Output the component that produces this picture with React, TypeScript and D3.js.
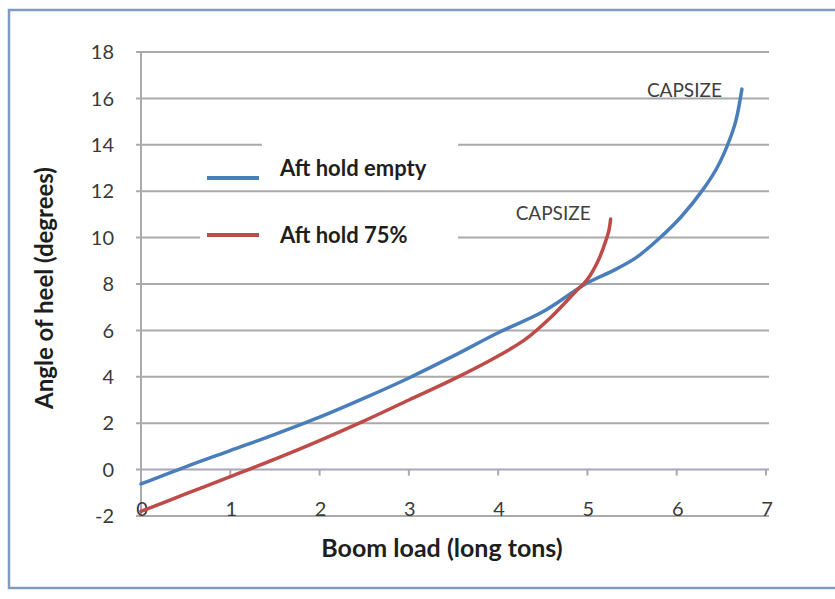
import { useEffect, useRef } from "react";
import * as d3 from "d3";

const emptyLoad = [0, 0.5, 1, 1.5, 2, 2.5, 3, 3.5, 4, 4.5, 5, 5.3, 5.55, 5.8, 6.05, 6.3, 6.45, 6.57, 6.66, 6.73];
const emptyHeel = [-0.62, 0.12, 0.82, 1.52, 2.26, 3.08, 3.95, 4.9, 5.9, 6.8, 8.05, 8.6, 9.15, 9.95, 10.9, 12.1, 13.0, 14.0, 15.0, 16.4];
const fullLoad = [0, 0.5, 1, 1.5, 2, 2.5, 3, 3.5, 4, 4.3, 4.6, 4.85, 5, 5.12, 5.2, 5.24, 5.26];
const fullHeel = [-1.8, -1.05, -0.3, 0.45, 1.25, 2.1, 3.0, 3.9, 4.9, 5.6, 6.6, 7.6, 8.2, 9.0, 9.8, 10.3, 10.8];
const xTicks = [0, 1, 2, 3, 4, 5, 6, 7];
const yTicks = [-2, 0, 2, 4, 6, 8, 10, 12, 14, 16, 18];
const seriesNames = ["Aft hold empty", "Aft hold 75%"];
const seriesColors = ["#4a7ebb", "#be4b48"];
const capsizeLabel = "CAPSIZE";

const font = "Lato, 'Open Sans', sans-serif";

export default function App() {
    const svgRef = useRef<SVGSVGElement | null>(null);
    const wSVG = 835;
    const hSVG = 599;

    useEffect(() => {
        const svg = d3.select(svgRef.current);
        svg.selectAll('*').remove();

        const xScale = d3.scaleLinear().domain([0, 7]).range([141, 766]);
        const yScale = d3.scaleLinear().domain([-2, 18]).range([516, 52]);

        // outer frame
        svg.append('rect')
            .attr('x', 9).attr('y', 10)
            .attr('width', 840).attr('height', 578)
            .attr('fill', 'white')
            .attr('stroke', '#7f9cbf')
            .attr('stroke-width', 2.5);

        // gridlines
        svg.append('g')
            .selectAll('line')
            .data(yTicks)
            .join('line')
            .attr('x1', xScale(0) - 5)
            .attr('x2', xScale(7) + 3)
            .attr('y1', d => yScale(d))
            .attr('y2', d => yScale(d))
            .attr('stroke', d => d === 0 ? '#a8a6bb' : '#aaaaaa')
            .attr('stroke-width', 2);

        // y axis line
        svg.append('line')
            .attr('x1', xScale(0)).attr('x2', xScale(0))
            .attr('y1', yScale(18)).attr('y2', yScale(-2))
            .attr('stroke', '#aaaaaa').attr('stroke-width', 2);

        // x ticks hanging from the zero line
        svg.append('g')
            .selectAll('line')
            .data(xTicks)
            .join('line')
            .attr('x1', d => xScale(d)).attr('x2', d => xScale(d))
            .attr('y1', yScale(0)).attr('y2', yScale(0) + 6)
            .attr('stroke', '#aaaaaa').attr('stroke-width', 2);

        // y tick labels
        svg.append('g')
            .selectAll('text')
            .data(yTicks)
            .join('text')
            .attr('x', 114)
            .attr('y', d => yScale(d))
            .attr('dy', '0.36em')
            .attr('text-anchor', 'end')
            .style('font-family', font)
            .style('font-size', '20px')
            .attr('fill', '#3a3a3a')
            .text(d => d);

        // x tick labels, sitting low like excel does
        svg.append('g')
            .selectAll('text')
            .data(xTicks)
            .join('text')
            .attr('x', d => xScale(d) + 1)
            .attr('y', 516)
            .attr('text-anchor', 'middle')
            .style('font-family', font)
            .style('font-size', '20px')
            .attr('fill', '#3a3a3a')
            .text(d => d);

        // axis titles
        svg.append('text')
            .attr('x', 442).attr('y', 557)
            .attr('text-anchor', 'middle')
            .style('font-family', font)
            .style('font-size', '25px')
            .style('font-weight', 'bold')
            .attr('fill', '#1e1e1e')
            .text('Boom load (long tons)');
        svg.append('text')
            .attr('transform', 'translate(53,288) rotate(-90)')
            .attr('text-anchor', 'middle')
            .style('font-family', font)
            .style('font-size', '24px')
            .style('font-weight', 'bold')
            .attr('fill', '#1e1e1e')
            .text('Angle of heel (degrees)');

        // legend backgrounds (hide gridlines behind it)
        svg.append('rect').attr('x', 262).attr('y', 140).attr('width', 196).attr('height', 10).attr('fill', 'white');
        svg.append('rect').attr('x', 200).attr('y', 230).attr('width', 258).attr('height', 14).attr('fill', 'white');

        const line = d3.line<[number, number]>()
            .x(d => xScale(d[0]))
            .y(d => yScale(d[1]))
            .curve(d3.curveCatmullRom.alpha(0.5));

        const series: [number, number][][] = [
            emptyLoad.map((v, i) => [v, emptyHeel[i]]),
            fullLoad.map((v, i) => [v, fullHeel[i]]),
        ];

        series.forEach((s, i) => {
            svg.append('path')
                .datum(s)
                .attr('fill', 'none')
                .attr('stroke', seriesColors[i])
                .attr('stroke-width', 3.5)
                .attr('stroke-linecap', 'round')
                .attr('d', line);
        });

        // legend
        const legendY = [178, 235];
        const legendText = [176, 243];
        seriesNames.forEach((name, i) => {
            svg.append('line')
                .attr('x1', 207).attr('x2', 259)
                .attr('y1', legendY[i]).attr('y2', legendY[i])
                .attr('stroke', seriesColors[i])
                .attr('stroke-width', 4);
            svg.append('text')
                .attr('x', 280).attr('y', legendText[i])
                .style('font-family', font)
                .style('font-size', '22px')
                .style('font-weight', 'bold')
                .attr('fill', '#1e1e1e')
                .text(name);
        });

        // capsize notes
        const ends = [series[0][series[0].length - 1], series[1][series[1].length - 1]];
        svg.append('text')
            .attr('x', xScale(ends[0][0]) - 20)
            .attr('y', yScale(ends[0][1]) + 8)
            .attr('text-anchor', 'end')
            .style('font-family', font)
            .style('font-size', '19px')
            .attr('fill', '#404040')
            .text(capsizeLabel);
        svg.append('text')
            .attr('x', xScale(ends[1][0]) - 20)
            .attr('y', yScale(ends[1][1]) + 1)
            .attr('text-anchor', 'end')
            .style('font-family', font)
            .style('font-size', '19px')
            .attr('fill', '#404040')
            .text(capsizeLabel);
    }, []);

    return (
        <svg ref={svgRef} width={wSVG} height={hSVG}
            style={{ position: 'absolute', left: 0, top: 0, background: 'white' }} />
    );
}
